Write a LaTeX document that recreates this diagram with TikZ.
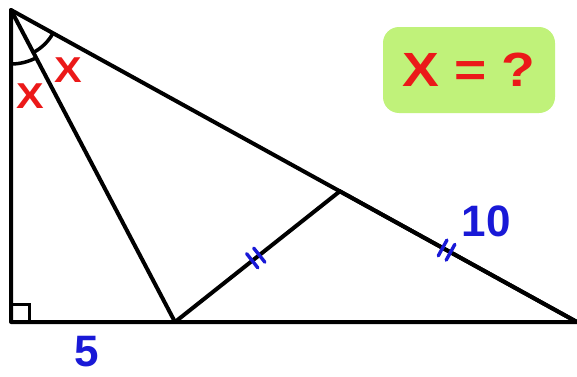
\documentclass[tikz,border=0pt]{standalone}
\usepackage{fontspec}
\setmainfont{Liberation Sans}
\newfontfamily\widesans[FakeStretch=1.15]{Liberation Sans}
\usetikzlibrary{calc,decorations.markings}
\definecolor{markred}{RGB}{235,25,25}
\definecolor{markblue}{RGB}{25,25,215}
\definecolor{boxgreen}{RGB}{192,242,122}
\tikzset{
  side/.style={line width=4pt, line cap=round, line join=round},
  ticks/.style={postaction={decorate, decoration={markings, mark=at position #1 with {\draw[markblue, line width=3.4pt] (-4.5pt,-9pt) -- (-4.5pt,9pt) (4.5pt,-9pt) -- (4.5pt,9pt);}}}},
  anglelabel/.style={text=markred, inner sep=0pt, font=\widesans\bfseries\fontsize{36}{38}\selectfont},
  sidelabel/.style={text=markblue, inner sep=0pt, font=\bfseries\fontsize{44}{48}\selectfont}
}
\begin{document}
\begin{tikzpicture}[x=1pt, y=1pt]
\useasboundingbox (0,0) rectangle (577,376);
\coordinate (A) at (11,366);
\coordinate (C) at (11,54);
\coordinate (B) at (577,54);
\coordinate (D) at (175,54);
\coordinate (E) at ($(A)!0.581!(B)$);
\draw[side] (A) -- (C) -- (B) -- cycle;
\draw[side] (A) -- (D);
\draw[side, ticks=0.49] (D) -- (E);
\draw[side, ticks=0.45] (E) -- (B);
\draw[line width=3pt] ([shift={(0,18)}]C) -- ++(18,0) -- ++(0,-18);
\draw[line width=3.5pt] ([shift={(270:54)}]A) arc[start angle=270, end angle=297.7, radius=54];
\draw[line width=3.5pt] ([shift={(297.7:48)}]A) arc[start angle=297.7, end angle=331.1, radius=48];
\node[anglelabel] (xleft) at (30,280) {X};
\node[anglelabel] (xright) at (68,306) {X};
\node[sidelabel] (base) at (87,24) {5};
\node[sidelabel] (hyp) at (486,155) {10};
\node[fill=boxgreen, rounded corners=16pt, minimum width=172pt, minimum height=86pt, inner sep=0pt, text=markred, font=\widesans\bfseries\fontsize{48}{50}\selectfont] (question) at (469,306) {X = ?};
\end{tikzpicture}
\end{document}
